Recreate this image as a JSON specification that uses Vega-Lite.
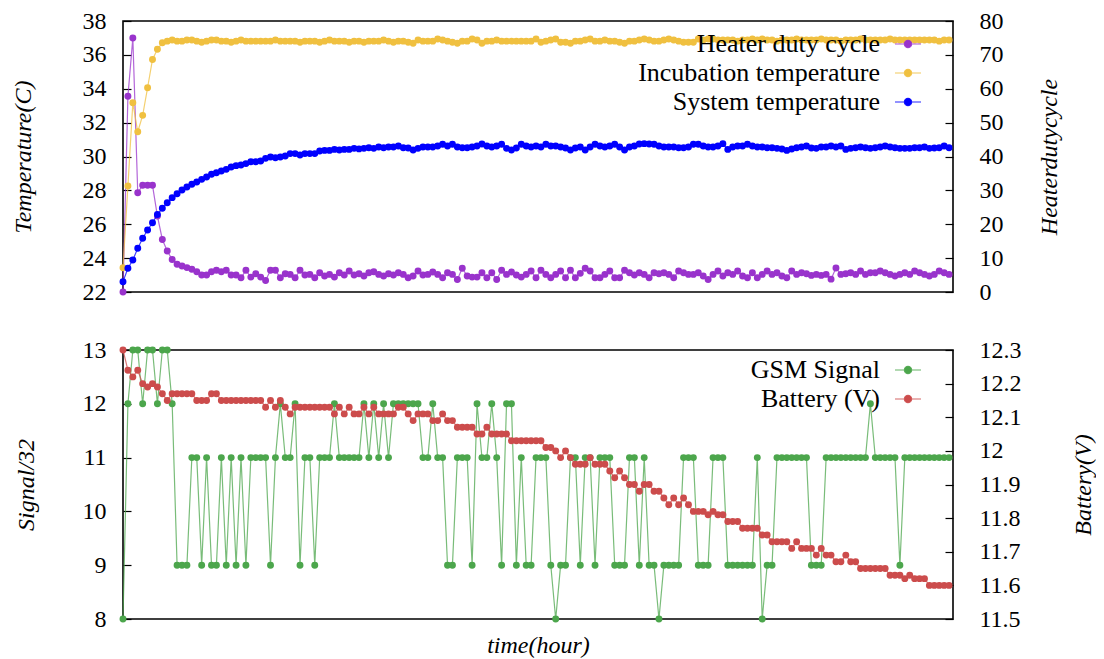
{
  "$schema": "https://vega.github.io/schema/vega-lite/v6.json",
  "autosize": {"type": "pad"},
  "padding": {"left": 10, "top": 8, "right": 0, "bottom": 0},
  "background": "white",
  "spacing": 58,
  "bounds": "flush",
  "config": {
    "font": "Liberation Serif",
    "view": {"stroke": "black", "strokeWidth": 1.6},
    "axis": {"grid": false, "domain": false, "tickColor": "black", "tickSize": -8, "tickWidth": 1.2, "labelFont": "Liberation Serif", "labelFontSize": 24, "labelColor": "black", "titleFont": "Liberation Serif", "titleFontSize": 24, "titleFontStyle": "italic", "titleFontWeight": "normal", "titleColor": "black", "labelFlush": false, "labelOverlap": false, "labelPadding": 25},
    "legend": {"orient": "none", "padding": 0, "labelAlign": "right", "labelBaseline": "middle", "labelOffset": -42, "labelFont": "Liberation Serif", "labelFontSize": 26, "labelColor": "black", "labelLimit": 500, "rowPadding": 2, "symbolType": "M-1,0L1,0M-0.28,0A0.28,0.28,0,1,1,0.28,0A0.28,0.28,0,1,1,-0.28,0Z", "symbolSize": 676, "symbolStrokeWidth": 1.2}
  },
  "datasets": {
    "d": [
      {"t":0,"heat":0,"inc":23.43,"sys":22.61,"gsm":8,"bat":12.3},
      {"t":1,"heat":57.8,"inc":28.26,"sys":23.4,"gsm":12,"bat":12.24},
      {"t":2,"heat":75.0,"inc":33.17,"sys":23.89,"gsm":13,"bat":12.22},
      {"t":3,"heat":29.3,"inc":31.46,"sys":24.58,"gsm":13,"bat":12.24},
      {"t":4,"heat":31.5,"inc":32.43,"sys":25.17,"gsm":12,"bat":12.2},
      {"t":5,"heat":31.5,"inc":34.06,"sys":25.66,"gsm":13,"bat":12.19},
      {"t":6,"heat":31.5,"inc":35.73,"sys":26.09,"gsm":13,"bat":12.2},
      {"t":7,"heat":22.4,"inc":36.33,"sys":26.58,"gsm":12,"bat":12.19},
      {"t":8,"heat":15.5,"inc":36.72,"sys":26.94,"gsm":13,"bat":12.17},
      {"t":9,"heat":12.1,"inc":36.81,"sys":27.27,"gsm":13,"bat":12.15},
      {"t":10,"heat":9.6,"inc":36.88,"sys":27.57,"gsm":12,"bat":12.17},
      {"t":11,"heat":8.2,"inc":36.81,"sys":27.8,"gsm":9,"bat":12.17},
      {"t":12,"heat":7.7,"inc":36.81,"sys":28.02,"gsm":9,"bat":12.17},
      {"t":13,"heat":7.2,"inc":36.88,"sys":28.2,"gsm":9,"bat":12.17},
      {"t":14,"heat":6.7,"inc":36.88,"sys":28.36,"gsm":11,"bat":12.17},
      {"t":15,"heat":6.0,"inc":36.81,"sys":28.49,"gsm":11,"bat":12.15},
      {"t":16,"heat":5.0,"inc":36.75,"sys":28.65,"gsm":9,"bat":12.15},
      {"t":17,"heat":5.0,"inc":36.81,"sys":28.79,"gsm":11,"bat":12.15},
      {"t":18,"heat":6.0,"inc":36.88,"sys":28.95,"gsm":9,"bat":12.17},
      {"t":19,"heat":6.4,"inc":36.88,"sys":29.04,"gsm":9,"bat":12.17},
      {"t":20,"heat":6.0,"inc":36.81,"sys":29.14,"gsm":11,"bat":12.15},
      {"t":21,"heat":6.4,"inc":36.81,"sys":29.24,"gsm":9,"bat":12.15},
      {"t":22,"heat":5.0,"inc":36.75,"sys":29.38,"gsm":11,"bat":12.15},
      {"t":23,"heat":5.0,"inc":36.81,"sys":29.46,"gsm":9,"bat":12.15},
      {"t":24,"heat":4.2,"inc":36.88,"sys":29.5,"gsm":11,"bat":12.15},
      {"t":25,"heat":6.4,"inc":36.81,"sys":29.58,"gsm":9,"bat":12.15},
      {"t":26,"heat":4.4,"inc":36.81,"sys":29.69,"gsm":11,"bat":12.15},
      {"t":27,"heat":5.4,"inc":36.81,"sys":29.69,"gsm":11,"bat":12.15},
      {"t":28,"heat":4.4,"inc":36.81,"sys":29.73,"gsm":11,"bat":12.15},
      {"t":29,"heat":3.4,"inc":36.81,"sys":29.89,"gsm":11,"bat":12.13},
      {"t":30,"heat":6.4,"inc":36.81,"sys":29.97,"gsm":9,"bat":12.15},
      {"t":31,"heat":6.4,"inc":36.88,"sys":29.93,"gsm":11,"bat":12.13},
      {"t":32,"heat":4.2,"inc":36.81,"sys":29.97,"gsm":12,"bat":12.15},
      {"t":33,"heat":5.4,"inc":36.81,"sys":30.03,"gsm":11,"bat":12.13},
      {"t":34,"heat":5.2,"inc":36.81,"sys":30.17,"gsm":11,"bat":12.11},
      {"t":35,"heat":4.2,"inc":36.81,"sys":30.17,"gsm":12,"bat":12.13},
      {"t":36,"heat":6.4,"inc":36.75,"sys":30.09,"gsm":9,"bat":12.13},
      {"t":37,"heat":5.0,"inc":36.81,"sys":30.17,"gsm":11,"bat":12.13},
      {"t":38,"heat":5.2,"inc":36.81,"sys":30.17,"gsm":11,"bat":12.13},
      {"t":39,"heat":4.2,"inc":36.81,"sys":30.17,"gsm":9,"bat":12.13},
      {"t":40,"heat":5.7,"inc":36.75,"sys":30.32,"gsm":11,"bat":12.13},
      {"t":41,"heat":4.7,"inc":36.81,"sys":30.36,"gsm":11,"bat":12.13},
      {"t":42,"heat":5.2,"inc":36.88,"sys":30.36,"gsm":11,"bat":12.13},
      {"t":43,"heat":4.4,"inc":36.81,"sys":30.42,"gsm":12,"bat":12.11},
      {"t":44,"heat":5.7,"inc":36.81,"sys":30.38,"gsm":11,"bat":12.13},
      {"t":45,"heat":5.0,"inc":36.81,"sys":30.42,"gsm":11,"bat":12.11},
      {"t":46,"heat":6.2,"inc":36.75,"sys":30.42,"gsm":11,"bat":12.13},
      {"t":47,"heat":5.0,"inc":36.81,"sys":30.48,"gsm":11,"bat":12.11},
      {"t":48,"heat":5.4,"inc":36.81,"sys":30.45,"gsm":11,"bat":12.11},
      {"t":49,"heat":4.7,"inc":36.75,"sys":30.48,"gsm":12,"bat":12.13},
      {"t":50,"heat":5.7,"inc":36.81,"sys":30.52,"gsm":11,"bat":12.11},
      {"t":51,"heat":6.0,"inc":36.81,"sys":30.48,"gsm":12,"bat":12.13},
      {"t":52,"heat":5.2,"inc":36.81,"sys":30.56,"gsm":11,"bat":12.11},
      {"t":53,"heat":4.7,"inc":36.88,"sys":30.52,"gsm":12,"bat":12.11},
      {"t":54,"heat":5.4,"inc":36.81,"sys":30.56,"gsm":11,"bat":12.11},
      {"t":55,"heat":5.0,"inc":36.75,"sys":30.56,"gsm":12,"bat":12.11},
      {"t":56,"heat":5.7,"inc":36.81,"sys":30.62,"gsm":12,"bat":12.13},
      {"t":57,"heat":5.2,"inc":36.81,"sys":30.52,"gsm":12,"bat":12.13},
      {"t":58,"heat":4.2,"inc":36.75,"sys":30.5,"gsm":12,"bat":12.11},
      {"t":59,"heat":4.7,"inc":36.69,"sys":30.38,"gsm":12,"bat":12.09},
      {"t":60,"heat":6.2,"inc":36.88,"sys":30.48,"gsm":12,"bat":12.11},
      {"t":61,"heat":5.0,"inc":36.81,"sys":30.56,"gsm":11,"bat":12.11},
      {"t":62,"heat":5.2,"inc":36.81,"sys":30.56,"gsm":11,"bat":12.11},
      {"t":63,"heat":5.9,"inc":36.81,"sys":30.56,"gsm":12,"bat":12.09},
      {"t":64,"heat":5.2,"inc":36.94,"sys":30.62,"gsm":11,"bat":12.09},
      {"t":65,"heat":4.2,"inc":36.88,"sys":30.72,"gsm":11,"bat":12.11},
      {"t":66,"heat":5.7,"inc":36.81,"sys":30.62,"gsm":9,"bat":12.09},
      {"t":67,"heat":5.2,"inc":36.75,"sys":30.72,"gsm":9,"bat":12.09},
      {"t":68,"heat":3.7,"inc":36.69,"sys":30.56,"gsm":11,"bat":12.07},
      {"t":69,"heat":7.0,"inc":36.81,"sys":30.52,"gsm":11,"bat":12.07},
      {"t":70,"heat":4.7,"inc":36.81,"sys":30.52,"gsm":11,"bat":12.07},
      {"t":71,"heat":4.4,"inc":36.94,"sys":30.56,"gsm":9,"bat":12.07},
      {"t":72,"heat":4.4,"inc":36.88,"sys":30.62,"gsm":12,"bat":12.05},
      {"t":73,"heat":5.7,"inc":36.69,"sys":30.74,"gsm":11,"bat":12.05},
      {"t":74,"heat":4.2,"inc":36.81,"sys":30.62,"gsm":11,"bat":12.07},
      {"t":75,"heat":5.7,"inc":36.81,"sys":30.56,"gsm":12,"bat":12.05},
      {"t":76,"heat":3.7,"inc":36.88,"sys":30.62,"gsm":11,"bat":12.05},
      {"t":77,"heat":6.4,"inc":36.81,"sys":30.72,"gsm":9,"bat":12.05},
      {"t":78,"heat":5.2,"inc":36.81,"sys":30.48,"gsm":12,"bat":12.05},
      {"t":79,"heat":5.9,"inc":36.81,"sys":30.38,"gsm":12,"bat":12.03},
      {"t":80,"heat":5.0,"inc":36.81,"sys":30.5,"gsm":9,"bat":12.03},
      {"t":81,"heat":4.4,"inc":36.81,"sys":30.72,"gsm":11,"bat":12.03},
      {"t":82,"heat":5.2,"inc":36.81,"sys":30.62,"gsm":9,"bat":12.03},
      {"t":83,"heat":6.2,"inc":36.81,"sys":30.56,"gsm":9,"bat":12.03},
      {"t":84,"heat":4.2,"inc":36.94,"sys":30.62,"gsm":11,"bat":12.03},
      {"t":85,"heat":6.4,"inc":36.75,"sys":30.56,"gsm":11,"bat":12.03},
      {"t":86,"heat":5.2,"inc":36.81,"sys":30.72,"gsm":11,"bat":12.01},
      {"t":87,"heat":4.2,"inc":36.88,"sys":30.62,"gsm":9,"bat":12.01},
      {"t":88,"heat":5.2,"inc":36.94,"sys":30.62,"gsm":8,"bat":12.0},
      {"t":89,"heat":6.2,"inc":36.75,"sys":30.56,"gsm":9,"bat":11.98},
      {"t":90,"heat":4.2,"inc":36.75,"sys":30.5,"gsm":9,"bat":12.0},
      {"t":91,"heat":6.4,"inc":36.69,"sys":30.38,"gsm":11,"bat":11.98},
      {"t":92,"heat":4.2,"inc":36.81,"sys":30.5,"gsm":11,"bat":11.96},
      {"t":93,"heat":5.5,"inc":36.81,"sys":30.56,"gsm":9,"bat":11.96},
      {"t":94,"heat":7.0,"inc":36.88,"sys":30.38,"gsm":11,"bat":11.96},
      {"t":95,"heat":6.2,"inc":36.94,"sys":30.56,"gsm":11,"bat":11.98},
      {"t":96,"heat":4.2,"inc":36.81,"sys":30.72,"gsm":9,"bat":11.96},
      {"t":97,"heat":4.2,"inc":36.81,"sys":30.62,"gsm":11,"bat":11.96},
      {"t":98,"heat":5.2,"inc":36.88,"sys":30.56,"gsm":11,"bat":11.96},
      {"t":99,"heat":6.2,"inc":36.81,"sys":30.62,"gsm":11,"bat":11.94},
      {"t":100,"heat":4.2,"inc":36.81,"sys":30.72,"gsm":9,"bat":11.92},
      {"t":101,"heat":4.2,"inc":36.75,"sys":30.56,"gsm":9,"bat":11.94},
      {"t":102,"heat":6.4,"inc":36.69,"sys":30.38,"gsm":9,"bat":11.92},
      {"t":103,"heat":5.7,"inc":36.81,"sys":30.56,"gsm":11,"bat":11.9},
      {"t":104,"heat":5.0,"inc":36.81,"sys":30.62,"gsm":11,"bat":11.9},
      {"t":105,"heat":5.7,"inc":36.88,"sys":30.74,"gsm":9,"bat":11.88},
      {"t":106,"heat":5.2,"inc":36.94,"sys":30.76,"gsm":11,"bat":11.9},
      {"t":107,"heat":4.2,"inc":36.88,"sys":30.74,"gsm":9,"bat":11.9},
      {"t":108,"heat":5.7,"inc":36.81,"sys":30.72,"gsm":9,"bat":11.88},
      {"t":109,"heat":5.4,"inc":36.81,"sys":30.62,"gsm":8,"bat":11.88},
      {"t":110,"heat":5.7,"inc":36.88,"sys":30.56,"gsm":9,"bat":11.86},
      {"t":111,"heat":5.2,"inc":36.94,"sys":30.56,"gsm":9,"bat":11.84},
      {"t":112,"heat":4.2,"inc":36.88,"sys":30.56,"gsm":9,"bat":11.86},
      {"t":113,"heat":6.2,"inc":36.81,"sys":30.52,"gsm":9,"bat":11.84},
      {"t":114,"heat":5.7,"inc":36.75,"sys":30.52,"gsm":11,"bat":11.86},
      {"t":115,"heat":5.2,"inc":36.75,"sys":30.56,"gsm":11,"bat":11.84},
      {"t":116,"heat":5.2,"inc":36.75,"sys":30.72,"gsm":11,"bat":11.82},
      {"t":117,"heat":5.7,"inc":36.94,"sys":30.72,"gsm":9,"bat":11.82},
      {"t":118,"heat":4.7,"inc":36.88,"sys":30.62,"gsm":9,"bat":11.82},
      {"t":119,"heat":3.7,"inc":36.94,"sys":30.56,"gsm":9,"bat":11.81},
      {"t":120,"heat":5.2,"inc":36.94,"sys":30.56,"gsm":11,"bat":11.82},
      {"t":121,"heat":6.2,"inc":36.88,"sys":30.62,"gsm":11,"bat":11.81},
      {"t":122,"heat":4.7,"inc":36.88,"sys":30.76,"gsm":11,"bat":11.81},
      {"t":123,"heat":5.7,"inc":36.88,"sys":30.42,"gsm":9,"bat":11.79},
      {"t":124,"heat":5.2,"inc":36.88,"sys":30.56,"gsm":9,"bat":11.79},
      {"t":125,"heat":6.2,"inc":36.81,"sys":30.62,"gsm":9,"bat":11.79},
      {"t":126,"heat":4.7,"inc":36.88,"sys":30.62,"gsm":9,"bat":11.77},
      {"t":127,"heat":4.2,"inc":36.88,"sys":30.72,"gsm":9,"bat":11.77},
      {"t":128,"heat":5.7,"inc":36.94,"sys":30.62,"gsm":9,"bat":11.77},
      {"t":129,"heat":4.2,"inc":36.88,"sys":30.56,"gsm":11,"bat":11.77},
      {"t":130,"heat":5.2,"inc":36.94,"sys":30.56,"gsm":8,"bat":11.75},
      {"t":131,"heat":6.2,"inc":36.88,"sys":30.52,"gsm":9,"bat":11.75},
      {"t":132,"heat":5.2,"inc":36.88,"sys":30.52,"gsm":9,"bat":11.73},
      {"t":133,"heat":5.7,"inc":36.81,"sys":30.48,"gsm":11,"bat":11.73},
      {"t":134,"heat":4.7,"inc":36.88,"sys":30.44,"gsm":11,"bat":11.73},
      {"t":135,"heat":4.2,"inc":36.88,"sys":30.36,"gsm":11,"bat":11.73},
      {"t":136,"heat":6.2,"inc":36.88,"sys":30.44,"gsm":11,"bat":11.71},
      {"t":137,"heat":5.2,"inc":36.94,"sys":30.52,"gsm":11,"bat":11.73},
      {"t":138,"heat":5.7,"inc":36.88,"sys":30.56,"gsm":11,"bat":11.71},
      {"t":139,"heat":5.4,"inc":36.88,"sys":30.62,"gsm":11,"bat":11.71},
      {"t":140,"heat":4.9,"inc":36.88,"sys":30.5,"gsm":9,"bat":11.71},
      {"t":141,"heat":5.2,"inc":36.88,"sys":30.48,"gsm":9,"bat":11.69},
      {"t":142,"heat":4.9,"inc":36.94,"sys":30.56,"gsm":9,"bat":11.71},
      {"t":143,"heat":5.2,"inc":36.88,"sys":30.56,"gsm":11,"bat":11.69},
      {"t":144,"heat":3.8,"inc":36.88,"sys":30.62,"gsm":11,"bat":11.69},
      {"t":145,"heat":7.1,"inc":36.88,"sys":30.56,"gsm":11,"bat":11.67},
      {"t":146,"heat":5.2,"inc":36.81,"sys":30.62,"gsm":11,"bat":11.67},
      {"t":147,"heat":5.4,"inc":36.88,"sys":30.42,"gsm":11,"bat":11.69},
      {"t":148,"heat":5.7,"inc":36.88,"sys":30.48,"gsm":11,"bat":11.67},
      {"t":149,"heat":5.2,"inc":36.88,"sys":30.52,"gsm":11,"bat":11.67},
      {"t":150,"heat":6.2,"inc":36.94,"sys":30.56,"gsm":11,"bat":11.65},
      {"t":151,"heat":5.2,"inc":36.88,"sys":30.52,"gsm":11,"bat":11.65},
      {"t":152,"heat":5.7,"inc":36.88,"sys":30.48,"gsm":12,"bat":11.65},
      {"t":153,"heat":5.7,"inc":36.88,"sys":30.52,"gsm":11,"bat":11.65},
      {"t":154,"heat":6.2,"inc":36.88,"sys":30.56,"gsm":11,"bat":11.65},
      {"t":155,"heat":5.7,"inc":36.88,"sys":30.62,"gsm":11,"bat":11.65},
      {"t":156,"heat":5.2,"inc":36.94,"sys":30.56,"gsm":11,"bat":11.63},
      {"t":157,"heat":4.7,"inc":36.88,"sys":30.52,"gsm":11,"bat":11.63},
      {"t":158,"heat":5.2,"inc":36.88,"sys":30.48,"gsm":9,"bat":11.63},
      {"t":159,"heat":5.7,"inc":36.88,"sys":30.48,"gsm":11,"bat":11.62},
      {"t":160,"heat":5.2,"inc":36.88,"sys":30.48,"gsm":11,"bat":11.63},
      {"t":161,"heat":6.2,"inc":36.88,"sys":30.52,"gsm":11,"bat":11.62},
      {"t":162,"heat":5.7,"inc":36.88,"sys":30.52,"gsm":11,"bat":11.62},
      {"t":163,"heat":5.2,"inc":36.88,"sys":30.56,"gsm":11,"bat":11.62},
      {"t":164,"heat":4.7,"inc":36.88,"sys":30.48,"gsm":11,"bat":11.6},
      {"t":165,"heat":5.2,"inc":36.88,"sys":30.5,"gsm":11,"bat":11.6},
      {"t":166,"heat":6.2,"inc":36.81,"sys":30.52,"gsm":11,"bat":11.6},
      {"t":167,"heat":5.7,"inc":36.88,"sys":30.62,"gsm":11,"bat":11.6},
      {"t":168,"heat":5.2,"inc":36.88,"sys":30.52,"gsm":11,"bat":11.6}
    ]
  },
  "data": {"name": "d"},
  "resolve": {"scale": {"color": "independent"}},
  "vconcat": [
    {
      "width": 830,
      "height": 271,
      "encoding": {
        "x": {"field": "t", "type": "quantitative", "scale": {"domain": [0, 168.8], "nice": false, "zero": false}, "axis": null}
      },
      "layer": [
        {
          "mark": {"type": "line", "strokeWidth": 1.2, "strokeOpacity": 0.75, "point": {"filled": true, "size": 48, "opacity": 1}},
          "encoding": {
            "y": {"field": "heat", "type": "quantitative", "scale": {"domain": [0, 80], "nice": false, "zero": false},
                  "axis": {"orient": "right", "values": [0, 10, 20, 30, 40, 50, 60, 70, 80], "title": "Heaterdutycycle", "titleAngle": -90, "titleBaseline": "top", "titlePadding": 34, "labelPadding": 34}},
            "color": {"datum": "Heater duty cycle", "type": "nominal",
                      "scale": {"domain": ["Heater duty cycle", "Incubation temperature", "System temperature"], "range": ["#9933cc", "#f0c040", "#0000ff"]},
                      "legend": {"title": null, "legendX": 771, "legendY": 9,
                                 "encode": {"symbols": {"update": {
                                   "fill": {"signal": "datum.value == 'Heater duty cycle' ? '#9933cc' : datum.value == 'Incubation temperature' ? '#f0c040' : '#0000ff'"},
                                   "stroke": {"signal": "datum.value == 'Heater duty cycle' ? '#9933cc' : datum.value == 'Incubation temperature' ? '#f0c040' : '#0000ff'"},
                                   "opacity": {"value": 1}, "fillOpacity": {"value": 1}, "strokeOpacity": {"value": 0.85}}}}}}
          }
        },
        {
          "mark": {"type": "line", "strokeWidth": 1.2, "strokeOpacity": 0.75, "point": {"filled": true, "size": 48, "opacity": 1}},
          "encoding": {
            "y": {"field": "inc", "type": "quantitative", "scale": {"domain": [22, 38], "nice": false, "zero": false},
                  "axis": {"orient": "left", "values": [22, 24, 26, 28, 30, 32, 34, 36, 38], "title": "Temperature(C)", "titlePadding": 47}},
            "color": {"datum": "Incubation temperature", "type": "nominal"}
          }
        },
        {
          "mark": {"type": "line", "strokeWidth": 1.2, "strokeOpacity": 0.75, "point": {"filled": true, "size": 48, "opacity": 1}},
          "encoding": {
            "y": {"field": "sys", "type": "quantitative", "scale": {"domain": [22, 38], "nice": false, "zero": false}, "axis": null},
            "color": {"datum": "System temperature", "type": "nominal"}
          }
        }
      ],
      "resolve": {"scale": {"y": "independent"}}
    },
    {
      "width": 830,
      "height": 269,
      "encoding": {
        "x": {"field": "t", "type": "quantitative", "scale": {"domain": [0, 168.8], "nice": false, "zero": false},
              "axis": {"title": "time(hour)", "labels": false, "ticks": false, "domain": false, "titlePadding": 14}}
      },
      "layer": [
        {
          "mark": {"type": "line", "strokeWidth": 1.2, "strokeOpacity": 0.75, "point": {"filled": true, "size": 48, "opacity": 1}},
          "encoding": {
            "y": {"field": "gsm", "type": "quantitative", "scale": {"domain": [8, 13], "nice": false, "zero": false},
                  "axis": {"orient": "left", "values": [8, 9, 10, 11, 12, 13], "title": "Signal/32", "titlePadding": 44}},
            "color": {"datum": "GSM Signal", "type": "nominal",
                      "scale": {"domain": ["GSM Signal", "Battery (V)"], "range": ["#4ca64c", "#cc4c4c"]},
                      "legend": {"title": null, "legendX": 771, "legendY": 6,
                                 "encode": {"symbols": {"update": {
                                   "fill": {"signal": "datum.value == 'GSM Signal' ? '#4ca64c' : '#cc4c4c'"},
                                   "stroke": {"signal": "datum.value == 'GSM Signal' ? '#4ca64c' : '#cc4c4c'"},
                                   "opacity": {"value": 1}, "fillOpacity": {"value": 1}, "strokeOpacity": {"value": 0.85}}}}}}
          }
        },
        {
          "mark": {"type": "line", "strokeWidth": 1.2, "strokeOpacity": 0.75, "point": {"filled": true, "size": 48, "opacity": 1}},
          "encoding": {
            "y": {"field": "bat", "type": "quantitative", "scale": {"domain": [11.5, 12.3], "nice": false, "zero": false},
                  "axis": {"orient": "right", "values": [11.5, 11.6, 11.7, 11.8, 11.9, 12, 12.1, 12.2, 12.3], "format": "~g", "title": "Battery(V)", "titleAngle": -90, "titleBaseline": "top", "titlePadding": 50, "labelPadding": 34}},
            "color": {"datum": "Battery (V)", "type": "nominal"}
          }
        }
      ],
      "resolve": {"scale": {"y": "independent"}}
    }
  ]
}
